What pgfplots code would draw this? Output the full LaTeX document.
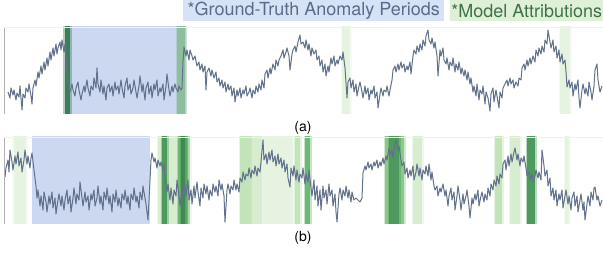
\documentclass[border=0pt]{standalone}
\usepackage{fontspec}
\setmainfont{TeX Gyre Heros}
\usepackage{pgfplots}
\pgfplotsset{compat=1.18}
\definecolor{linec}{HTML}{63728C}
\definecolor{gtblue}{HTML}{CCD8F0}
\definecolor{legblue}{HTML}{D6E2F6}
\definecolor{gttext}{HTML}{5A6C88}
\definecolor{leggreen}{HTML}{DFF0D8}
\definecolor{gntext}{HTML}{3E7248}
\definecolor{gteal}{HTML}{3D7D5A}
\definecolor{gmuted}{HTML}{8DBF9E}
\definecolor{gdark}{HTML}{3F8A52}
\definecolor{gdk}{HTML}{4E9A5E}
\definecolor{gmed}{HTML}{6DB874}
\definecolor{gmid}{HTML}{8CC888}
\definecolor{glight}{HTML}{C2E4B8}
\definecolor{gpale}{HTML}{D8EDD0}
\definecolor{gfaint}{HTML}{E6F3E1}
\newcommand{\sband}[3]{%
  \pgfmathsetmacro{\bla}{#1-1.5}\pgfmathsetmacro{\blb}{#2+1.5}%
  \addplot[draw=none, fill=#3, fill opacity=0.4, forget plot] coordinates {(\bla,0) (\bla,300) (\blb,300) (\blb,0)} -- cycle;
  \addplot[draw=none, fill=#3, forget plot] coordinates {(#1,0) (#1,300) (#2,300) (#2,0)} -- cycle;}
\begin{document}
\begin{tikzpicture}[x=1pt,y=1pt]
\useasboundingbox (0,-253) rectangle (603,0);
\node[fill=legblue, minimum width=261pt, minimum height=21pt, inner sep=0pt, anchor=north west, text=gttext, font=\fontsize{18}{20}\selectfont] at (183,0) {*Ground-Truth Anomaly Periods};
\node[fill=leggreen, minimum width=153pt, minimum height=21pt, inner sep=0pt, anchor=north west, text=gntext, font=\fontsize{18}{20}\selectfont] at (450,0) {*Model Attributions};
\node[font=\fontsize{14}{16}\selectfont] at (303,-128) {(a)};
\node[font=\fontsize{14}{16}\selectfont] at (303,-238) {(b)};
% panel a
\begin{axis}[at={(4pt,-27pt)}, anchor=north west, width=599pt, height=87pt, scale only axis,
  xmin=4, xmax=603, ymin=27, ymax=114, y dir=reverse, hide axis, clip=true]
\addplot[draw=none, fill=gtblue, forget plot] coordinates {(65,0) (65,300) (186,300) (186,0)} -- cycle;
\sband{64.5}{70}{gteal}
\sband{177}{185}{gmuted}
\sband{342}{350}{gfaint}
\sband{560}{570}{gfaint}
\addplot[linec, line width=1pt, line join=round] coordinates {
(8,92) (10,98) (11,88) (13,95) (14,90) (16,100) (17,93) (19,97) (20,86) (22,110) (23,94) (25,98) (26,88) (28,92) (29,84) (31,96) (32,104) (33,88)
(35,80) (36,86) (38,72) (39,78) (41,66) (42,74) (44,62) (45,70) (47,58) (48,66) (50,52) (51,60) (53,48) (54,56) (56,44) (57,54) (58,48) (60,42) (61,50) (62,40) (63,46) (64,52) (65,44) (66,58)
(68,82) (69,86) (70,92) (72,84) (73,90) (75,96) (76,88) (78,82) (79,90) (81,100) (82,94) (84,86) (85,92) (87,80) (88,88) (90,96) (91,86) (93,90) (94,78) (96,88) (97,68) (98,84) (100,92) (101,80) (103,94) (104,86) (106,100) (107,88) (109,84) (110,92) (112,86) (113,96) (115,82) (116,90) (118,86) (119,94) (121,80) (122,88) (124,98) (125,86) (127,78) (128,90) (130,84) (131,94) (133,88) (134,80) (136,92) (137,98) (139,86) (140,76) (142,92) (143,84) (145,100) (146,88) (148,82) (149,94) (151,86) (152,98) (154,84) (155,90) (157,80) (158,96) (160,88) (161,92) (163,84) (164,100) (166,86) (167,74) (169,90) (170,96) (172,86) (173,92) (175,84) (176,88) (178,92) (179,86) (181,90) (182,88)
(183,62) (184,47) (186,56) (187,50) (189,60) (190,50) (192,56)
(193,60) (195,56) (197,66) (199,62) (200,70) (202,64) (203,72) (205,66) (206,90) (207,72) (209,68) (211,76) (212,70) (214,78) (216,72) (217,82) (219,78) (220,86) (222,80) (223,88) (225,82) (226,92) (228,84) (229,90) (231,86) (232,96) (234,88) (235,102)
(237,90) (238,96) (240,88) (241,98) (243,90) (244,94) (246,86) (247,96) (249,92) (250,88) (252,98) (253,90) (255,94) (256,86) (258,92) (259,84) (261,90)
(262,80) (264,88) (265,74) (267,70) (268,78) (270,68) (271,74) (273,64) (275,70) (276,60) (278,66) (279,60) (281,56) (283,50) (284,58) (286,52) (287,48) (289,56) (290,70) (292,54) (293,50) (295,46) (296,52) (298,42) (300,35) (301,44)
(303,42) (305,48) (306,40) (308,50) (309,44) (311,56) (312,48) (314,54) (316,50) (317,60) (319,56) (320,66) (322,60) (323,72) (325,64) (326,76) (328,66) (329,72) (331,58) (332,64) (334,56) (335,66) (337,60) (338,64) (340,56) (342,60) (343,52)
(345,68) (347,98) (348,82) (350,78) (351,88) (353,80) (354,92) (356,84) (357,96) (359,86) (360,82) (362,92) (363,98) (365,86) (366,94) (368,88) (369,100) (371,90) (372,94) (374,86) (375,98) (377,92) (378,108) (380,94) (381,88) (383,96) (384,90) (386,92) (387,86) (389,96) (390,90) (392,80) (393,70) (395,66)
(396,72) (398,64) (399,70) (401,62) (402,68) (404,64) (405,72) (407,66) (408,70) (410,62) (411,74) (413,56) (414,50) (416,54) (417,46) (419,52) (420,44) (422,50) (423,40) (425,46) (426,36) (428,30) (429,40) (431,44) (432,38) (434,48) (435,42) (437,56) (438,76) (440,50) (441,56) (443,48) (444,60) (446,64) (447,58) (449,70) (450,62) (452,66) (453,58) (455,72) (456,64) (458,70) (459,62) (461,74) (462,68) (464,76) (465,70) (467,80) (468,72)
(470,84) (471,78) (473,92) (474,86) (476,96) (477,84) (479,100) (480,90) (482,94) (483,86) (485,104) (486,92) (488,98) (490,111) (491,94) (493,88) (494,102) (496,90) (497,96) (499,108) (500,92) (502,98) (503,88) (505,84) (507,80) (508,86) (510,78) (511,84) (513,80) (514,88) (516,82) (518,86) (519,78) (521,80) (522,68) (524,64) (525,70) (527,60) (528,66) (530,58) (531,64) (533,56) (535,62) (536,50) (538,56) (539,48) (541,54) (542,46) (544,52) (545,40) (547,44) (548,30) (550,42) (551,48) (553,40) (554,52) (556,46) (557,58) (559,50) (560,62) (562,54) (563,64) (565,60) (566,72) (567,87) (569,80) (570,88) (572,82) (573,96) (575,84) (576,90) (578,80) (579,98) (580,108) (582,90) (583,84) (585,94) (586,88) (588,96) (589,82) (591,92) (592,100) (594,86) (595,70) (597,64) (598,80) (600,92) (602,86)
};
\draw[gray!60, line width=0.6pt] (rel axis cs:0,0) -- (rel axis cs:0,1);
\draw[gray!12, line width=0.6pt] (rel axis cs:0,1) -- (rel axis cs:1,1);
\end{axis}
% panel b
\begin{axis}[at={(4pt,-137pt)}, anchor=north west, width=599pt, height=87pt, scale only axis,
  xmin=4, xmax=603, ymin=137, ymax=224, y dir=reverse, hide axis, clip=true]
\addplot[draw=none, fill=gtblue, forget plot] coordinates {(32,0) (32,300) (150,300) (150,0)} -- cycle;
\sband{14}{26}{gfaint}
\sband{158}{190}{gpale}
\sband{162}{167}{gdk}
\sband{178}{188}{gmed}
\sband{181}{185}{gdark}
\sband{240}{252}{glight}
\sband{252}{262}{gpale}
\sband{263}{293}{gfaint}
\sband{295}{300}{glight}
\sband{305}{310}{gmed}
\sband{385}{404}{gmid}
\sband{389}{399}{gdk}
\sband{413}{422}{gpale}
\sband{495}{502}{glight}
\sband{510}{520}{gpale}
\sband{527}{535}{gdk}
\sband{565}{569}{gfaint}
\addplot[linec, line width=1pt, line join=round] coordinates {
(5,177) (6,168) (8,160) (9,172) (10,150) (12,162) (13,170) (15,156) (16,164) (18,152) (19,166) (21,158) (22,172) (24,160) (25,150) (27,164) (28,156) (30,168) (31,158) (32,153) (34,170) (36,186) (37,198)
(38,190) (40,206) (41,196) (43,210) (44,192) (46,202) (47,212) (49,196) (50,204) (52,192) (53,208) (55,198) (56,214) (58,200) (59,194) (61,206) (62,196) (64,210) (65,200) (67,190) (68,204) (70,196) (71,212) (73,198) (74,188) (76,204) (77,194) (79,200) (80,182) (82,198) (83,206) (85,192) (86,202) (88,196) (89,210) (91,194) (92,200) (94,190) (95,206) (97,198) (98,186) (100,204) (101,196) (103,210) (104,192) (106,200) (107,188) (109,204) (110,196) (112,212) (113,194) (115,202) (116,190) (118,206) (119,198) (121,208) (122,194) (124,200) (125,190) (127,204) (128,196) (130,210) (131,194) (133,200) (134,188) (136,202) (137,196) (139,208) (140,192) (142,200) (143,186) (145,198) (146,204) (148,220)
(150,180) (151,160) (152,153) (154,162) (155,158) (157,168) (158,160) (160,166) (161,162) (163,170) (164,164)
(165,178) (167,192) (168,184) (170,200) (171,188) (173,204) (174,190) (176,196) (177,180) (179,196) (180,206) (182,190) (183,200) (185,184) (186,196) (188,180) (189,200) (191,190) (192,204) (194,186) (195,198) (197,182) (198,192) (200,206) (201,188) (203,198) (204,184) (206,194) (207,186) (209,200) (210,190) (212,196) (213,184) (215,192) (216,186) (218,196) (219,180) (221,190) (222,184) (224,196) (225,222) (227,190) (228,184) (230,194) (231,186) (233,190) (234,180) (236,190) (237,184) (239,192) (240,178) (242,182) (243,172) (245,180) (246,174) (248,176) (249,168) (251,178) (252,170) (254,174) (255,166) (257,176) (258,168) (260,172) (261,162) (263,140) (264,160) (266,154) (267,164) (269,152) (270,160) (272,150) (273,162) (275,156) (276,166) (278,154) (279,164) (281,158) (282,168) (284,160) (285,172) (287,164) (288,178) (290,187) (291,168) (293,176) (294,166) (296,180) (297,170) (299,182) (300,174) (302,178) (303,168) (305,184) (306,174) (308,182) (309,170) (311,188) (312,196) (314,180) (315,200) (317,186) (318,206) (320,190) (321,210) (323,186) (324,198) (326,190) (327,204) (329,184) (330,196) (332,190) (333,206) (335,194) (336,212) (337,222) (339,194) (340,188) (342,200) (343,190) (345,196) (346,186) (348,198) (349,190) (351,202) (352,192) (354,200) (356,198) (358,200) (360,202) (362,198) (363,173) (365,166) (366,170) (368,162) (369,168) (371,164) (372,170) (374,162) (375,166) (377,160) (378,168) (380,162) (381,166) (383,158) (384,164) (386,156) (387,160) (389,148) (390,156) (392,150) (393,158) (395,144) (396,140) (398,150) (399,146) (401,160) (402,166) (404,162) (405,174) (407,168) (408,178) (410,170) (411,176) (413,166) (414,180) (416,172) (417,164) (419,176) (420,168) (422,180) (423,170) (425,174) (426,166) (428,176) (429,164) (431,180) (432,172) (434,186) (435,190) (437,186) (438,196) (440,188) (441,192) (443,184) (445,196) (446,190) (448,206) (449,196) (451,188) (452,200) (454,192) (455,210) (457,196) (458,186) (460,200) (461,210) (463,194) (464,204) (466,196) (467,190) (469,206) (470,218) (472,198) (473,204) (475,194) (476,200) (478,190) (479,206) (481,196) (482,192) (484,202) (485,194) (487,200) (488,188) (490,196) (491,184) (493,190) (494,180) (496,186) (497,176) (499,184) (500,174) (502,178) (503,164) (505,160) (506,170) (508,156) (509,166) (511,154) (512,162) (514,152) (515,148) (517,160) (518,154) (520,166) (521,158) (523,162) (524,156) (526,168) (527,176) (529,172) (530,180) (532,174) (533,182) (535,176) (536,170) (538,178) (539,172) (541,180) (542,150) (544,166) (545,176) (547,170) (548,186) (550,178) (551,196) (553,188) (554,200) (556,190) (557,206) (559,194) (560,200) (562,190) (563,208) (565,196) (566,190) (568,204) (569,196) (571,210) (572,198) (574,192) (575,206) (577,196) (578,212) (580,200) (581,194) (583,210) (584,202) (585,220) (587,204) (588,196) (590,206) (591,192) (593,200) (594,188) (595,187) (597,200) (598,196) (600,206) (602,200)
};
\draw[gray!60, line width=0.6pt] (rel axis cs:0,0) -- (rel axis cs:0,1);
\draw[gray!12, line width=0.6pt] (rel axis cs:0,1) -- (rel axis cs:1,1);
\end{axis}
\end{tikzpicture}
\end{document}
